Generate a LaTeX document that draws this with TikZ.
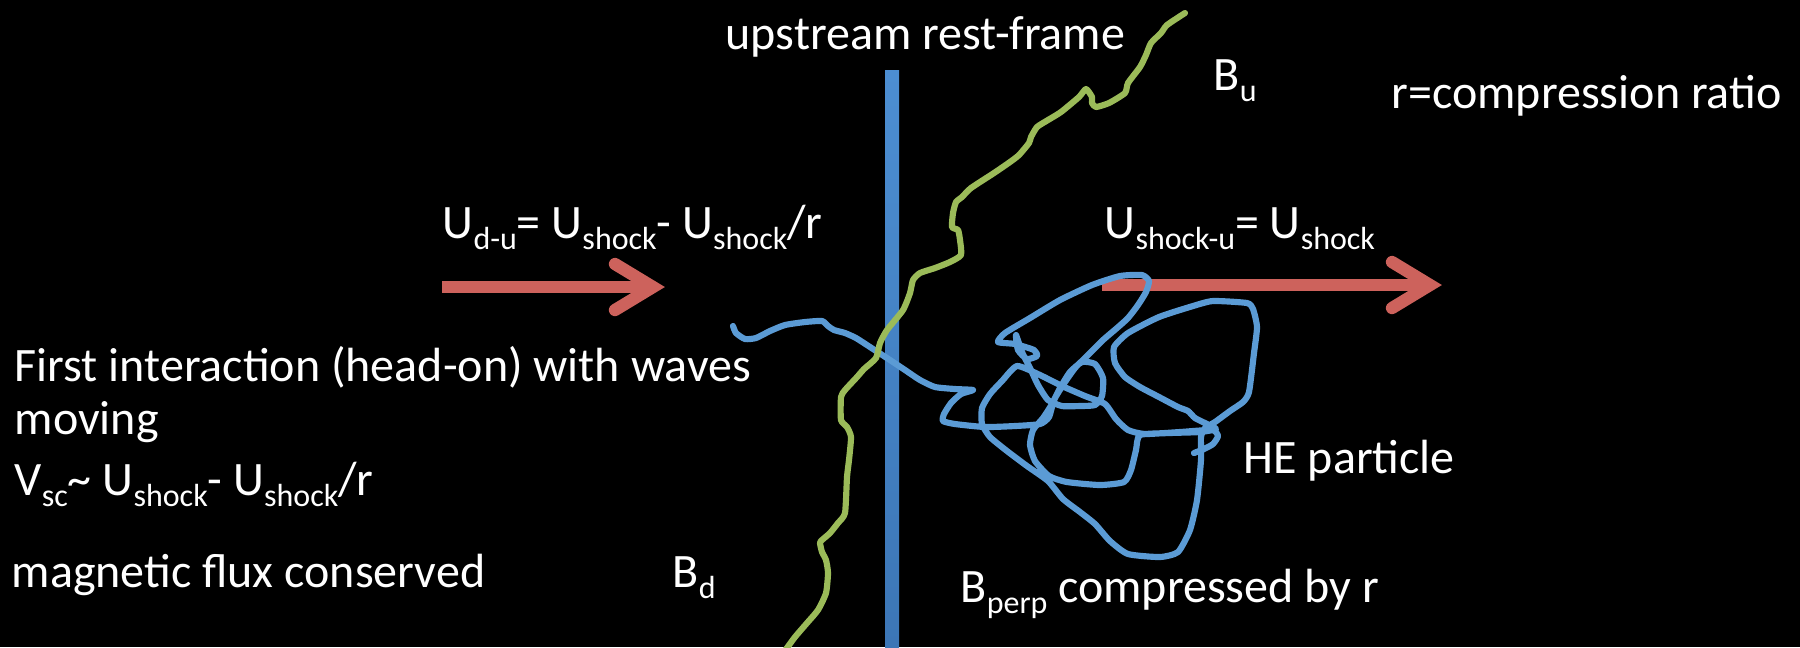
\documentclass[tikz,border=0pt]{standalone}
\usepackage{fontspec}
\setmainfont{Carlito}
\usepackage{xcolor}
\usetikzlibrary{calc}
\definecolor{shockblue}{RGB}{76,142,210}
\definecolor{shockdark}{RGB}{60,118,182}
\definecolor{pathblue}{RGB}{91,155,213}
\definecolor{fieldgreen}{RGB}{155,187,89}
\definecolor{flowred}{RGB}{205,98,92}
\newcommand{\lowsub}[1]{\raisebox{-0.24em}{\fontsize{9.1pt}{9pt}\selectfont #1}}
\tikzset{
	slidetext/.style={text=white, anchor=base west, inner sep=0pt,
			font=\fontsize{13.65pt}{16pt}\selectfont},
	flowshaft/.style={draw=flowred, line width=3.5pt},
	flowhead/.style={draw=flowred, line width=3.5pt, line cap=round, line join=miter},
	fieldline/.style={draw=fieldgreen, line width=1.75pt, line join=round, line cap=round},
	orbit/.style={draw=pathblue, line width=1.75pt, line join=round, line cap=round}
}

\begin{document}
\begin{tikzpicture}[x=0.01cm, y=-0.01cm]
	\useasboundingbox (0, 0) rectangle (1800, 647);
	\fill[black] (0, 0) rectangle (1800, 647);
	\clip (0, 0) rectangle (1800, 647);

	% shock front
	\shade[top color=shockblue, bottom color=shockdark] (885, 70) rectangle (899, 647);

	% flow arrows
	\coordinate (lefttail) at (442, 287);
	\coordinate (lefttip) at (653, 287);
	\coordinate (righttail) at (1102, 285);
	\coordinate (righttip) at (1430, 285);
	\draw[flowshaft] (lefttail) -- (lefttip);
	\draw[flowhead] ($(lefttip)+(-38,-23)$) -- (lefttip) -- ($(lefttip)+(-38,23)$);
	\draw[flowshaft] (righttail) -- (righttip);
	\draw[flowhead] ($(righttip)+(-38,-23)$) -- (righttip) -- ($(righttip)+(-38,23)$);

	% particle track
	\draw[orbit] plot[smooth, tension=0.35] coordinates {
		(733,326) (736,333) (745,339) (756,338) (770,331) (785,325) (805,322) (822,321)
		(828,326) (834,330) (845,333) (856,338) (870,347) (890,360) (905,370) (920,380)
		(935,387) (955,389) (973,390) (961,394) (951,403) (944,414) (943,421) (955,424)
		(985,427) (1015,426) (1040,424) (1049,417)
		(1054,400) (1063,385) (1075,368) (1088,355) (1103,340) (1117,328) (1128,318)
		(1138,305) (1146,292) (1149,281) (1142,275) (1120,276) (1092,285) (1060,300)
		(1030,318) (1005,333) (998,342)
		(1015,344) (1034,350) (1037,356) (1027,359) (1018,350) (1016,335)
		(1022,352) (1030,368) (1038,385) (1048,400) (1062,406) (1080,406) (1095,405)
		(1102,396) (1103,378) (1095,364) (1082,362) (1070,372) (1060,388) (1052,404)
		(1043,418) (1033,430) (1030,445) (1035,461) (1049,476) (1067,482) (1100,485)
		(1124,482) (1131,470) (1136,450) (1140,435)
		(1170,433) (1200,432) (1216,429) (1207,424) (1195,418) (1188,411) (1178,407)
		(1159,397) (1140,387) (1125,377) (1115,363) (1114,347) (1128,333) (1159,317)
		(1193,306) (1213,301) (1247,303) (1253,309) (1257,327) (1254,353) (1249,392)
		(1243,402) (1230,411) (1215,422) (1205,428) (1201,437)
		(1201,460) (1197,500) (1190,530) (1178,552) (1160,557) (1128,554) (1110,541)
		(1095,524) (1080,512) (1063,499) (1048,481) (1027,466) (1007,451) (990,437)
		(982,424) (982,408) (990,394) (1002,381) (1017,366)
		(1040,375) (1062,386) (1085,396) (1105,404) (1116,419) (1128,430) (1145,434)
		(1180,432) (1212,430) (1218,436) (1213,444) (1204,449) (1194,453)};

	% magnetic field line
	\draw[fieldline] plot[smooth, tension=0.35] coordinates {
		(1185,13) (1167,25) (1161,33) (1151,43) (1146,55) (1140,67) (1128,83) (1125,93)
		(1109,103) (1096,107) (1092,103) (1092,97) (1086,89) (1079,97) (1061,112)
		(1048,120) (1037,127) (1031,137) (1029,143) (1019,155) (1010,162) (994,173)
		(971,188) (962,197) (956,202) (953,213) (952,227) (958,230) (960,240) (961,255)
		(950,262) (935,268) (920,273) (913,280) (910,293) (903,310) (887,330) (880,343)
		(876,358) (864,369) (857,377) (845,390) (841,397) (841,420) (847,427) (851,437)
		(849,460) (847,477) (845,513) (838,523) (830,533) (822,540) (820,543) (822,552)
		(826,560) (828,573) (826,593) (818,610) (807,623) (795,637) (784,652)};

	\node[slidetext] (frame) at (725, 49) {upstream rest-frame};
	\node[slidetext] (bup) at (1213, 90) {B\lowsub{u}};
	\node[slidetext] (ratio) at (1391, 108) {r=compression ratio};
	\node[slidetext] (udown) at (442, 238) {U\lowsub{d-u}= U\lowsub{shock}- U\lowsub{shock}/r};
	\node[slidetext] (ushock) at (1104, 238) {U\lowsub{shock-u}= U\lowsub{shock}};
	\node[slidetext] (first) at (14, 381) {First interaction (head-on) with waves};
	\node[slidetext] (moving) at (14, 434) {moving};
	\node[slidetext] (vsc) at (14, 495) {V\lowsub{sc}\textasciitilde\ U\lowsub{shock}- U\lowsub{shock}/r};
	\node[slidetext] (flux) at (11, 587) {magnetic flux conserved};
	\node[slidetext] (bdown) at (672, 587) {B\lowsub{d}};
	\node[slidetext] (bperp) at (960, 602) {B\lowsub{perp} compressed by r};
	\node[slidetext] (hep) at (1243, 473) {HE particle};
\end{tikzpicture}
\end{document}
